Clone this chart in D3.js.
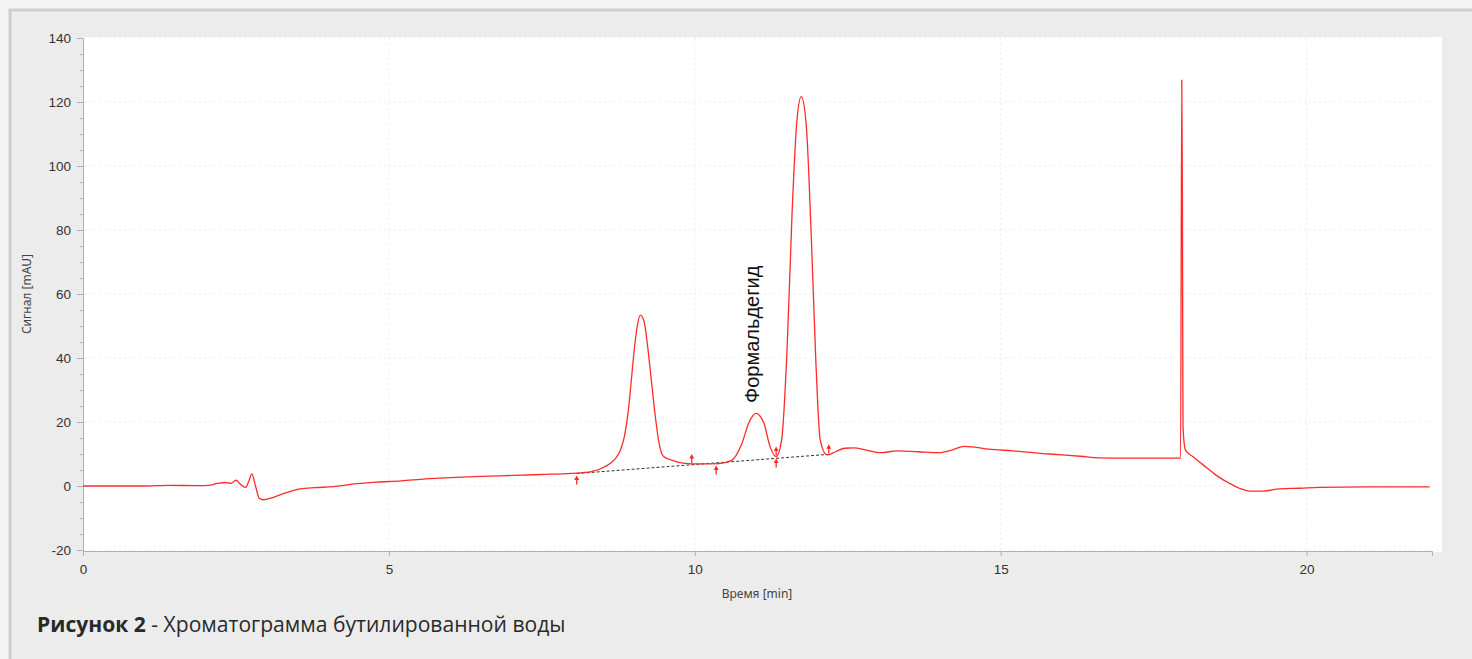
<!DOCTYPE html>
<html lang="ru">
<head>
    <meta charset="UTF-8">
    <title>Хроматограмма</title>
    <script src="https://cdn.jsdelivr.net/npm/d3@7"></script>
    <style>
        body { margin: 0; background: #f4f4f4; }
    </style>
</head>
<body>
</body>
<script>
    const width = 1472;
    const height = 659;

    // chromatogram trace
    const timeMin = [0, 1.0, 1.4, 1.9, 2.05, 2.2, 2.32, 2.42, 2.5, 2.57, 2.66, 2.71, 2.76, 2.82, 2.88, 2.95,
        3.1, 3.3, 3.55, 3.8, 4.1, 4.4, 4.8, 5.2, 5.6, 6.0, 6.5, 7.0, 7.5, 7.98,
        8.31, 8.53, 8.69, 8.78, 8.85, 8.91, 8.96, 9.01, 9.06, 9.11, 9.17, 9.23, 9.29, 9.35, 9.42, 9.49, 9.62, 9.84,
        10.06, 10.4, 10.6, 10.77, 10.88, 11.0, 11.13, 11.23, 11.33, 11.42, 11.51, 11.59, 11.67, 11.74,
        11.82, 11.90, 11.98, 12.05, 12.16, 12.30, 12.45, 12.6, 12.8, 13.05, 13.3, 13.65, 14.0, 14.2,
        14.4, 14.55, 14.8, 15.2, 15.8, 16.3, 16.62, 17.0, 17.5, 17.94, 17.96, 17.97, 17.98, 18.02,
        18.14, 18.31, 18.52, 18.74, 18.9, 19.07, 19.29, 19.56, 19.89, 20.21, 20.98, 22.01];
    const signal = [0, 0, 0.2, 0.1, 0.2, 0.8, 1.1, 0.8, 1.8, 0.6, -0.4, 1.5, 3.8, 0, -3.8, -4.3,
        -3.6, -2.2, -0.9, -0.5, -0.2, 0.6, 1.2, 1.6, 2.2, 2.6, 3.0, 3.3, 3.6, 3.95,
        4.5, 6.0, 8.3, 11.0, 15.5, 23.0, 32.5, 42.5, 50.0, 53.4, 51.5, 43.5, 33.0, 22.5, 13.0, 9.2, 8.1, 7.1,
        6.9, 7.0, 8.0, 13.3, 19.6, 22.7, 19.6, 12.3, 9.2, 14.5, 43.5, 85.2, 114.4, 121.7,
        113.3, 80, 38.3, 14.4, 9.7, 10.7, 11.8, 11.9, 11.2, 10.4, 11.0, 10.7, 10.4, 11.2,
        12.4, 12.2, 11.5, 11.0, 10.0, 9.3, 8.8, 8.7, 8.7, 8.7, 126.9, 91.5, 18.5, 11.2,
        9.2, 6.6, 3.4, 0.8, -0.7, -1.6, -1.6, -0.9, -0.7, -0.4, -0.3, -0.3];

    // integration baseline and peak markers
    const baselineTime = [8.07, 12.19];
    const baselineSignal = [3.9, 9.9];
    const markerTime = [8.07, 9.95, 10.35, 11.33, 11.33, 12.19];
    const markerSignal = [3.9, 6.9, 7.0, 9.2, 9.2, 9.9];
    const markerSide = ["below", "above", "below", "above", "below", "above"];

    const xTicks = [0, 5, 10, 15, 20];
    const yTicks = [-20, 0, 20, 40, 60, 80, 100, 120, 140];
    const yMinorTicks = d3.range(-20, 141, 5);

    const peakLabel = "Формальдегид";
    const peakLabelTime = 11.0;

    const svg = d3.select("body")
        .append("svg")
        .attr("width", width)
        .attr("height", height)
        .style("display", "block");

    // outer panel
    svg.append("rect")
        .attr("x", 0).attr("y", 0)
        .attr("width", width).attr("height", height)
        .attr("fill", "#f4f4f4");
    svg.append("rect")
        .attr("x", 9).attr("y", 9)
        .attr("width", width - 9).attr("height", height - 9)
        .attr("fill", "#ececec");
    svg.append("path")
        .attr("d", `M10,${height} V10 H${width}`)
        .attr("fill", "none")
        .attr("stroke", "#cdcdcd")
        .attr("stroke-width", 3);

    const x = d3.scaleLinear().domain([0, 22.05]).range([83, 1432]);
    const y = d3.scaleLinear().domain([-20, 140]).range([550, 38]);

    // plot background
    svg.append("rect")
        .attr("x", 83).attr("y", 37)
        .attr("width", 1442 - 83).attr("height", 552 - 37)
        .attr("fill", "#ffffff");

    // faint grid
    svg.append("g")
        .selectAll("line")
        .data(yTicks)
        .enter()
        .append("line")
        .attr("x1", 84).attr("x2", 1432)
        .attr("y1", d => y(d)).attr("y2", d => y(d))
        .attr("stroke", "#ededed")
        .attr("stroke-dasharray", "2,3");
    svg.append("g")
        .selectAll("line")
        .data(xTicks.slice(1))
        .enter()
        .append("line")
        .attr("x1", d => x(d)).attr("x2", d => x(d))
        .attr("y1", 38).attr("y2", 550)
        .attr("stroke", "#ededed")
        .attr("stroke-dasharray", "2,3");

    // axes
    const yAxis = svg.append("g")
        .attr("transform", "translate(83,0)")
        .call(d3.axisLeft(y).tickValues(yMinorTicks).tickSize(3).tickFormat(""));
    yAxis.select(".domain").remove();
    yAxis.selectAll("line").attr("stroke", "#b5b5b5");

    const yAxisMajor = svg.append("g")
        .attr("transform", "translate(83,0)")
        .call(d3.axisLeft(y).tickValues(yTicks).tickSize(6).tickPadding(6).tickFormat(d => String(d)));
    yAxisMajor.select(".domain").attr("stroke", "#b0b0b0");
    yAxisMajor.selectAll("line").attr("stroke", "#b0b0b0");
    yAxisMajor.selectAll("text")
        .attr("fill", "#333")
        .style("font-family", "'Liberation Sans', Arial, sans-serif")
        .style("font-size", "13.5px");

    const xAxis = svg.append("g")
        .attr("transform", "translate(0,551)")
        .call(d3.axisBottom(x).tickValues(xTicks).tickSize(5).tickPadding(8).tickSizeOuter(5).tickFormat(d => String(d)));
    xAxis.select(".domain").attr("stroke", "#b0b0b0");
    xAxis.selectAll("line").attr("stroke", "#b0b0b0");
    xAxis.selectAll("text")
        .attr("fill", "#333")
        .style("font-family", "'Liberation Sans', Arial, sans-serif")
        .style("font-size", "13.5px");

    // axis titles
    svg.append("text")
        .attr("x", 757)
        .attr("y", 598)
        .attr("text-anchor", "middle")
        .attr("fill", "#444")
        .style("font-family", "'Noto Sans', sans-serif")
        .style("font-size", "12px")
        .text("Время [min]");

    svg.append("text")
        .attr("transform", "translate(31,294) rotate(-90)")
        .attr("text-anchor", "middle")
        .attr("fill", "#444")
        .style("font-family", "'Noto Sans', sans-serif")
        .style("font-size", "12px")
        .text("Сигнал [mAU]");

    // baseline (dashed)
    svg.append("line")
        .attr("x1", x(baselineTime[0])).attr("y1", y(baselineSignal[0]))
        .attr("x2", x(baselineTime[1])).attr("y2", y(baselineSignal[1]))
        .attr("stroke", "#333")
        .attr("stroke-width", 1)
        .attr("stroke-dasharray", "3,2");

    // trace
    const trace = timeMin.map((t, i) => [t, signal[i]]);
    const line = d3.line()
        .x(d => x(d[0]))
        .y(d => y(d[1]))
        .curve(d3.curveMonotoneX);

    svg.append("path")
        .datum(trace)
        .attr("d", line)
        .attr("fill", "none")
        .attr("stroke", "#ff2a2a")
        .attr("stroke-width", 1.3)
        .attr("stroke-linejoin", "round");

    // peak start / end markers
    const markers = markerTime.map((t, i) => ({ t: t, v: markerSignal[i], side: markerSide[i] }));
    const mk = svg.append("g")
        .selectAll("g")
        .data(markers)
        .enter()
        .append("g")
        .attr("transform", d => {
            const top = d.side === "below" ? y(d.v) + 2 : y(d.v) - 10;
            return `translate(${x(d.t)},${top})`;
        });
    mk.append("line")
        .attr("x1", 0).attr("x2", 0)
        .attr("y1", 2).attr("y2", 9)
        .attr("stroke", "#ff2a2a")
        .attr("stroke-width", 1.3);
    mk.append("path")
        .attr("d", "M0,0 L-2.5,4.5 L2.5,4.5 Z")
        .attr("fill", "#ff2a2a");

    // peak name
    svg.append("text")
        .attr("transform", `translate(${x(peakLabelTime) + 3},403) rotate(-90)`)
        .attr("fill", "#111")
        .style("font-family", "'Liberation Sans', Arial, sans-serif")
        .style("font-size", "20px")
        .text(peakLabel);

    // figure caption
    const caption = svg.append("text")
        .attr("x", 37)
        .attr("y", 632)
        .attr("fill", "#2a2a2a")
        .style("font-family", "'Open Sans', 'Noto Sans', sans-serif")
        .style("font-size", "20px");
    caption.append("tspan")
        .style("font-weight", "bold")
        .text("Рисунок 2");
    caption.append("tspan")
        .text(" - Хроматограмма бутилированной воды");
    const capW = caption.node().getComputedTextLength();
    caption.style("font-size", (20 * 529 / capW) + "px");
</script>
</html>
